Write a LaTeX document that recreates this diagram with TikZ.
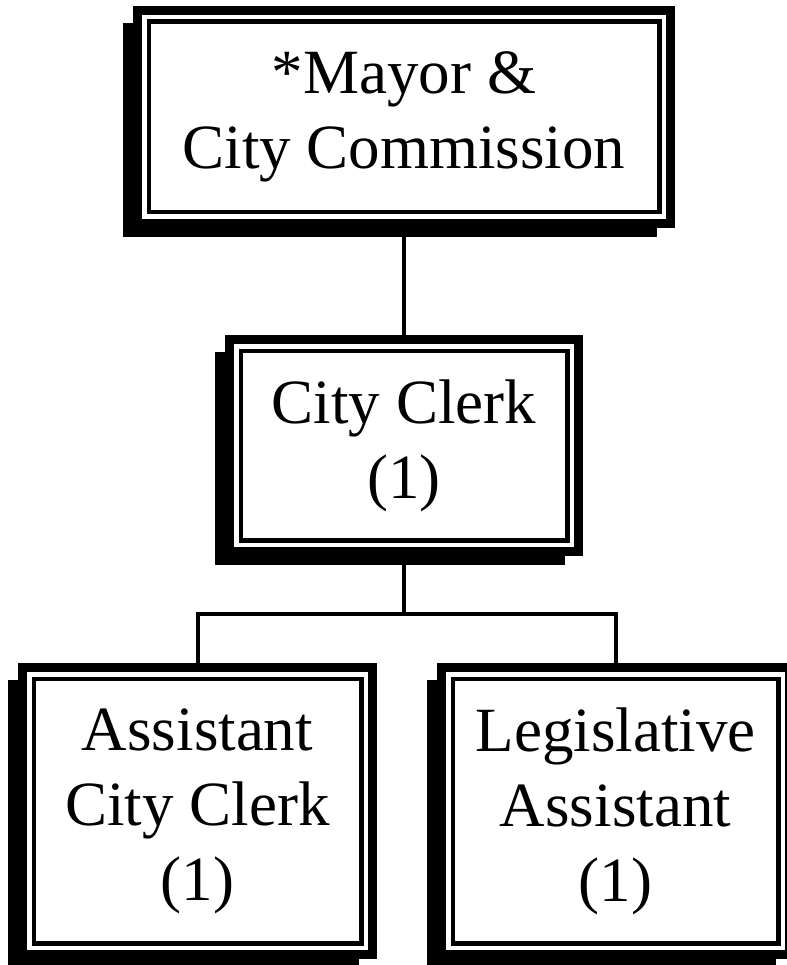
\documentclass[tikz,border=0pt]{standalone}
\usepackage{fontspec}
\setmainfont{Liberation Serif}
\usetikzlibrary{backgrounds}
\tikzset{
  orgbox/.style={draw=black, fill=white, line width=9pt, outer sep=0pt, inner sep=0pt,
    align=center, font=\fontsize{63}{75}\selectfont},
  innerline/.style={draw=black, line width=4.5pt},
  shadowfill/.style={fill=black},
  conn/.style={draw=black, line width=4pt}
}
\newcommand{\decorbox}[1]{%
  \begin{scope}[on background layer]
    \fill[shadowfill] ([shift={(-14.5,12.5)}]#1.north west) rectangle ([shift={(-13.5,13.5)}]#1.south east);
  \end{scope}
  \draw[innerline] ([shift={(11.25,11.25)}]#1.north west) rectangle ([shift={(-11.25,-11.25)}]#1.south east);
}
\begin{document}
\begin{tikzpicture}[x=1pt,y=-1pt]
\useasboundingbox (0,0) rectangle (786,965);
% connectors
\coordinate (bus) at (404,614);
\node[orgbox, minimum width=533pt, minimum height=213pt] (top) at (404,117) {*Mayor \&\\City Commission};
\node[orgbox, minimum width=349pt, minimum height=212pt] (clerk) at (404,445.5) {City Clerk\\(1)};
\node[orgbox, minimum width=350pt, minimum height=287pt] (asst) at (197.5,811) {Assistant\\City Clerk\\(1)};
\node[orgbox, minimum width=348pt, minimum height=287pt] (legis) at (615.5,811) {Legislative\\Assistant\\(1)};
\decorbox{top}
\decorbox{clerk}
\decorbox{asst}
\decorbox{legis}
\draw[conn] (top.south) -- (clerk.north);
\draw[conn] (clerk.south) -- (bus);
\draw[conn] (asst.north) |- (bus) -| (legis.north);
\end{tikzpicture}
\end{document}
